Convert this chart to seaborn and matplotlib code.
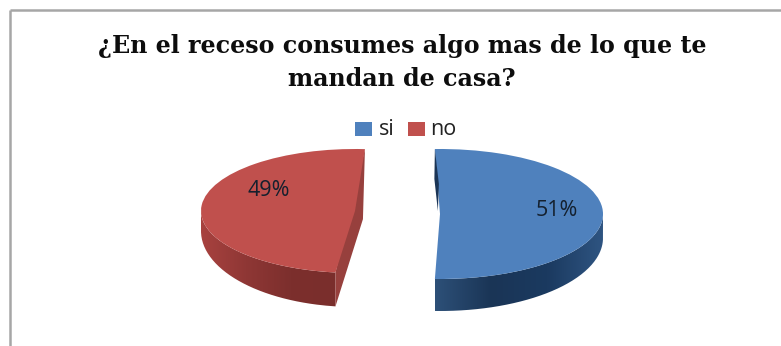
import numpy as np
import matplotlib
matplotlib.use("Agg")
import matplotlib.pyplot as plt
from matplotlib.path import Path
from matplotlib.patches import PathPatch, Rectangle
from matplotlib.transforms import Affine2D
from matplotlib.colors import LinearSegmentedColormap
import seaborn as sns

categories = ["si", "no"]
shares = [51, 49]
face_colors = ["#4f81bd", "#c0504d"]
title_lines = ["¿En el receso consumes algo mas de lo que te", "mandan de casa?"]

W, H = 781, 346
sns.set_theme(style="white")
fig = plt.figure(figsize=(W / 100, H / 100), dpi=100, facecolor="white")
ax = fig.add_axes([0, 0, 1, 1])


def py(y):
    """Pixel row, counted from the top, to a y value on the axes."""
    return H - y


# One unit pie, each slice then placed by its own squash and drift on the canvas
half_span = 360 * shares[0] / sum(shares) / 2
wedges, _, pct_texts = ax.pie(
    shares, colors=face_colors, startangle=half_span,
    counterclock=False, radius=1, autopct="%d%%",
    wedgeprops={"linewidth": 0},
)
ax.set_aspect("auto")
ax.axis("off")

# slice: centre x, centre row, x radius, y radius, turn, wall depth at bottom and at the rim
layout = [
    dict(cx=440, cy=214, rx=163, ry=65, turn=0, deep=32, rim=24,
         wall=("#2f5582", "#1b3a60", "#1a3556", "#2d5078"), cut="#1b3556"),
    dict(cx=355, cy=211, rx=154, ry=62, turn=-5.5, deep=34, rim=20,
         wall=("#a8423f", "#8f3735", "#7c2f2d", "#7a2e2c"), cut="#97403d"),
]
pct_pos = [(557, 210), (268.5, 190)]

for i, (wedge, pct, cfg) in enumerate(zip(wedges, pct_texts, layout)):
    to_canvas = (Affine2D().rotate_deg(cfg["turn"])
                 .scale(cfg["rx"], cfg["ry"])
                 .translate(cfg["cx"], py(cfg["cy"])))
    wedge.set_transform(to_canvas + ax.transData)
    wedge.set_zorder(4)

    # Rim of the slice, taken from the slice's own angles, for the extruded wall
    t1, t2 = wedge.theta1 + cfg["turn"], wedge.theta2 + cfg["turn"]
    th = np.radians(np.linspace(t1, t2, 200))
    th = th[np.sin(th) <= 0.02]
    x = cfg["cx"] + cfg["rx"] * np.cos(th)
    y = py(cfg["cy"]) + cfg["ry"] * np.sin(th)
    d = cfg["rim"] + (cfg["deep"] - cfg["rim"]) * np.clip(-np.sin(th), 0, 1)
    poly = np.vstack([np.c_[x, y], np.c_[x, y - d][::-1], [[x[0], y[0]]]])
    clip = PathPatch(Path(poly), facecolor="none", edgecolor="none",
                     transform=ax.transData)
    ax.add_patch(clip)
    cmap = LinearSegmentedColormap.from_list(f"wall{i}", cfg["wall"])
    grad = np.linspace(0, 1, 256)[None, :]
    if i == 0:
        grad = grad[:, ::-1]
    img = ax.imshow(grad, cmap=cmap, aspect="auto", zorder=2,
                    extent=(x.min(), x.max(), py(cfg["cy"]) - cfg["ry"] - cfg["deep"],
                            py(cfg["cy"]) + cfg["ry"]))
    img.set_clip_path(clip)

    # Straight cut face of the slice, seen along the gap
    if i == 1:
        top, low = np.radians(t1), np.radians(t2)
        px = cfg["cx"] + cfg["rx"] * np.cos([top, low])
        pz = py(cfg["cy"]) + cfg["ry"] * np.sin([top, low])
        cut = [(px[0], pz[0]), (px[0] - 2, pz[0] - 70), (px[1], pz[1] - cfg["deep"]),
               (px[1], pz[1])]
    else:
        top = np.radians(t2)
        px = cfg["cx"] + cfg["rx"] * np.cos(top)
        pz = py(cfg["cy"]) + cfg["ry"] * np.sin(top)
        cut = [(px, pz), (px - 0.5, pz - 30), (px + 3, pz - 62), (px + 4, pz - 35)]
    ax.fill(*zip(*cut), color=cfg["cut"], lw=0, zorder=3 if i == 1 else 5)

    pct.set_transform(ax.transData)
    pct.set_position((pct_pos[i][0], py(pct_pos[i][1])))
    pct.set(fontsize=15.5, color="#14202e", family="Open Sans", ha="center",
            va="center", zorder=6)

ax.set_xlim(0, W)
ax.set_ylim(0, H)

# Chart frame: only the top and left rules fall inside the canvas
ax.plot([10, 10], [0, py(10)], color="#a6a6a6", lw=1.8, zorder=1, solid_capstyle="butt")
ax.plot([10, W], [py(10), py(10)], color="#a6a6a6", lw=1.8, zorder=1, solid_capstyle="butt")

for line, row in zip(title_lines, (53, 86)):
    ax.text(402, py(row), line, ha="center", va="baseline", fontsize=17.1,
            family="DejaVu Serif", fontweight="bold", color="#0d0d0d", zorder=6)

# Legend row
ax.add_patch(Rectangle((355, py(136)), 17, 14, color=face_colors[0], lw=0, zorder=5))
ax.text(379, py(135), categories[0], fontsize=15.5, family="Open Sans", va="baseline",
        color="#222222", zorder=6)
ax.add_patch(Rectangle((408, py(136)), 17, 14, color=face_colors[1], lw=0, zorder=5))
ax.text(430, py(135), categories[1], fontsize=15.5, family="Open Sans", va="baseline",
        color="#222222", zorder=6)

fig.savefig("out.png", dpi=100, facecolor="white")
